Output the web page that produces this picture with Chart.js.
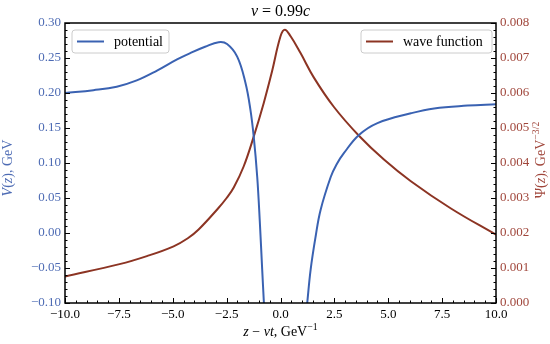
<!DOCTYPE html>
<html>
<head>
<meta charset="utf-8">
<script src="https://cdn.jsdelivr.net/npm/chart.js@4"></script>
<style>
  html, body { margin: 0; padding: 0; background: #fff; }
</style>
</head>
<body>
<canvas id="chart" width="550" height="344"></canvas>
<script>
// Data
const potentialZ = [-10, -8.68, -7.6, -6.67, -5.73, -4.8, -4.19, -3.5, -2.87, -2.48, -2.01, -1.63, -1.4, -1.24, -1.08, -0.96, -0.85, -0.77,
  0, 1.24, 1.40, 1.63, 1.86, 2.33, 2.6, 2.94, 3.64, 4.5, 6.05, 7.13, 8.68, 10];
const potentialV = [0.200, 0.204, 0.209, 0.218, 0.232, 0.248, 0.257, 0.266, 0.2725, 0.270, 0.252, 0.215, 0.177, 0.137, 0.080, 0.016, -0.052, -0.100,
  null, -0.100, -0.052, -0.005, 0.033, 0.080, 0.098, 0.114, 0.140, 0.157, 0.171, 0.178, 0.182, 0.184];

const waveZ = [-10, -7.47, -6.2, -4.96, -4.3, -3.8, -2.9, -2.5, -2.17, -1.71, -1.24, -0.78, -0.4, 0.0, 0.2, 0.47, 0.93, 1.55, 2.48, 3.64, 4.8, 6.05, 7.91, 10];
const wavePsi = [0.00076, 0.00111, 0.00134, 0.00162, 0.00185, 0.00210, 0.00270, 0.00300, 0.00330, 0.00390, 0.00476, 0.00571, 0.00660, 0.00762, 0.00781, 0.00762,
  0.00714, 0.00644, 0.00560, 0.00478, 0.00410, 0.00348, 0.00270, 0.00195];

const xTicks = [-10, -7.5, -5, -2.5, 0, 2.5, 5, 7.5, 10];
const vTicks = [-0.10, -0.05, 0.00, 0.05, 0.10, 0.15, 0.20, 0.25, 0.30];
const psiTicks = [0, 0.001, 0.002, 0.003, 0.004, 0.005, 0.006, 0.007, 0.008];

const blue = '#3a62b2';
const brown = '#8c3423';
const blueText = '#4d6bb4';
const brownText = '#a0463b';
const serif = "'Liberation Serif', 'DejaVu Serif', serif";

const fmt = (v, d) => v.toFixed(d).replace('-', '\u2212');

// draw a line of text made of pieces with different styles
function drawRich(ctx, segs, cx, cy, size) {
  let total = 0;
  segs.forEach(s => {
    ctx.font = (s.it ? 'italic ' : '') + (s.sup ? size * 0.7 : size) + 'px ' + serif;
    s.w = ctx.measureText(s.t).width;
    total += s.w;
  });
  let x = cx - total / 2;
  ctx.textAlign = 'left';
  ctx.textBaseline = 'middle';
  segs.forEach(s => {
    ctx.font = (s.it ? 'italic ' : '') + (s.sup ? size * 0.7 : size) + 'px ' + serif;
    ctx.fillText(s.t, x, s.sup ? cy - size * 0.35 : cy);
    x += s.w;
  });
}

function legendBox(ctx, x, y, w, h, color, label) {
  ctx.save();
  ctx.beginPath();
  ctx.roundRect(x, y, w, h, 3);
  ctx.fillStyle = 'rgba(255,255,255,0.85)';
  ctx.fill();
  ctx.strokeStyle = '#cccccc';
  ctx.lineWidth = 1;
  ctx.stroke();
  ctx.beginPath();
  ctx.moveTo(x + 5, y + h / 2);
  ctx.lineTo(x + 32, y + h / 2);
  ctx.strokeStyle = color;
  ctx.lineWidth = 2;
  ctx.stroke();
  ctx.fillStyle = '#000';
  ctx.font = '14px ' + serif;
  ctx.textAlign = 'left';
  ctx.textBaseline = 'middle';
  ctx.fillText(label, x + 42, y + h / 2 + 1);
  ctx.restore();
}

// title, frame, inward ticks, axis titles and the two legends
const decorations = {
  id: 'decorations',
  afterDraw(chart) {
    const ctx = chart.ctx;
    const a = chart.chartArea;
    const sx = chart.scales.x, sy = chart.scales.y, sp = chart.scales.y1;
    ctx.save();
    ctx.strokeStyle = '#000';
    ctx.lineWidth = 1;
    // x ticks (bottom only)
    for (let i = 0; i <= 40; i++) {
      const v = -10 + i * 0.5;
      const px = Math.round(sx.getPixelForValue(v)) + 0.5;
      const len = i % 5 === 0 ? 5 : 2.5;
      ctx.beginPath(); ctx.moveTo(px, a.bottom); ctx.lineTo(px, a.bottom - len); ctx.stroke();
    }
    // left ticks
    for (let i = 0; i <= 40; i++) {
      const v = -0.1 + i * 0.01;
      const py = Math.round(sy.getPixelForValue(v)) + 0.5;
      const len = i % 5 === 0 ? 5 : 2.5;
      ctx.beginPath(); ctx.moveTo(a.left, py); ctx.lineTo(a.left + len, py); ctx.stroke();
    }
    // right ticks
    for (let i = 0; i <= 40; i++) {
      const v = i * 0.0002;
      const py = Math.round(sp.getPixelForValue(v)) + 0.5;
      const len = i % 5 === 0 ? 5 : 2.5;
      ctx.beginPath(); ctx.moveTo(a.right, py); ctx.lineTo(a.right - len, py); ctx.stroke();
    }
    // frame
    ctx.lineWidth = 1.5;
    ctx.strokeRect(a.left, a.top, a.right - a.left, a.bottom - a.top);

    // title
    ctx.fillStyle = '#000';
    drawRich(ctx, [{ t: 'v', it: true }, { t: ' = 0.99' }, { t: 'c', it: true }], (a.left + a.right) / 2, 12, 16);

    // axis titles
    drawRich(ctx, [{ t: 'z', it: true }, { t: ' \u2212 ' }, { t: 'vt', it: true }, { t: ', GeV' }, { t: '\u22121', sup: true }],
      (a.left + a.right) / 2, 332, 14);

    ctx.save();
    ctx.translate(8, 168);
    ctx.rotate(-Math.PI / 2);
    ctx.fillStyle = blueText;
    drawRich(ctx, [{ t: 'V', it: true }, { t: '(' }, { t: 'z', it: true }, { t: '), GeV' }], 0, 0, 14);
    ctx.restore();

    ctx.save();
    ctx.translate(541, 160);
    ctx.rotate(-Math.PI / 2);
    ctx.fillStyle = brownText;
    drawRich(ctx, [{ t: '\u03A8(' }, { t: 'z', it: true }, { t: '), GeV' }, { t: '\u22123/2', sup: true }], 0, 0, 14);
    ctx.restore();

    legendBox(ctx, a.left + 7, a.top + 7, 97, 23, blue, 'potential');
    legendBox(ctx, a.right - 135, a.top + 7, 131, 23, brown, 'wave function');
    ctx.restore();
  }
};

const potentialData = potentialZ.map((z, i) => ({ x: z, y: potentialV[i] }));
const waveData = waveZ.map((z, i) => ({ x: z, y: wavePsi[i] }));

new Chart(document.getElementById('chart'), {
  type: 'line',
  data: {
    datasets: [
      {
        label: 'potential',
        data: potentialData,
        yAxisID: 'y',
        borderColor: blue,
        borderWidth: 2,
        pointRadius: 0,
        tension: 0.4,
        spanGaps: false
      },
      {
        label: 'wave function',
        data: waveData,
        yAxisID: 'y1',
        borderColor: brown,
        borderWidth: 2,
        pointRadius: 0,
        tension: 0.4
      }
    ]
  },
  options: {
    responsive: false,
    animation: false,
    layout: { padding: { top: 23 } },
    plugins: {
      legend: { display: false },
      tooltip: { enabled: false },
      title: { display: false }
    },
    scales: {
      x: {
        type: 'linear',
        min: -10, max: 10,
        afterBuildTicks: s => { s.ticks = xTicks.map(v => ({ value: v })); },
        afterFit: s => { s.height = 41; },
        grid: { display: false, drawTicks: false },
        border: { display: false },
        ticks: {
          color: '#000',
          font: { family: serif, size: 13 },
          padding: 4,
          maxRotation: 0,
          autoSkip: false,
          callback: v => fmt(v, 1)
        }
      },
      y: {
        position: 'left',
        min: -0.1, max: 0.3,
        afterBuildTicks: s => { s.ticks = vTicks.map(v => ({ value: v })); },
        afterFit: s => { s.width = 65; },
        grid: { display: false, drawTicks: false },
        border: { display: false },
        ticks: {
          color: blueText,
          font: { family: serif, size: 13 },
          padding: 4,
          callback: v => fmt(v, 2)
        }
      },
      y1: {
        position: 'right',
        min: 0, max: 0.008,
        afterBuildTicks: s => { s.ticks = psiTicks.map(v => ({ value: v })); },
        afterFit: s => { s.width = 54; },
        grid: { display: false, drawTicks: false },
        border: { display: false },
        ticks: {
          color: brownText,
          font: { family: serif, size: 13 },
          padding: 4,
          callback: v => fmt(v, 3)
        }
      }
    }
  },
  plugins: [decorations]
});
</script>
</body>
</html>
